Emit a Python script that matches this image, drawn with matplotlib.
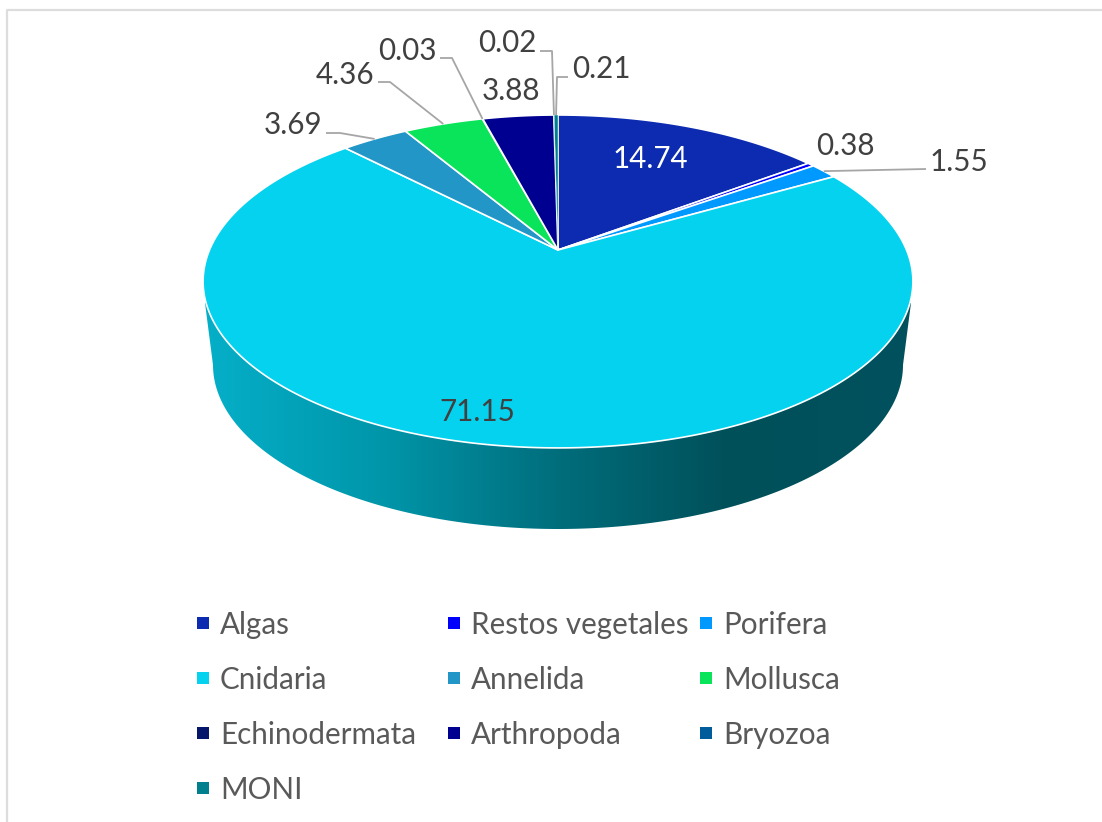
#!/usr/bin/env python3
"""Pie chart in perspective, drawn on a pixel canvas so the layout lines up."""

from __future__ import annotations

import matplotlib

matplotlib.use("Agg")
import matplotlib.pyplot as plt
import numpy as np
from matplotlib.colors import LinearSegmentedColormap
from matplotlib.patches import Polygon, Rectangle

WIDTH, HEIGHT = 1102, 822

CATEGORIES = ["Algas", "Restos vegetales", "Porifera", "Cnidaria", "Annelida",
              "Mollusca", "Echinodermata", "Arthropoda", "Bryozoa", "MONI"]
VALUES = [14.74, 0.38, 1.55, 71.15, 3.69, 4.36, 0.03, 3.88, 0.02, 0.21]
COLORS = ["#0C2BB0", "#0000FF", "#0099FF", "#05D2EE", "#2396C8",
          "#0AE45A", "#06176B", "#000090", "#005C9A", "#00808F"]

# Pie projection: apex of the slices, radii and perspective factor
APEX = (558.0, 250.0)
RX, RY, PERSP = 348.5, 160.5, 0.189

# Wall under the pie
WALL_SHADES = [(0.0, "#05AFC8"), (0.25, "#0096AA"), (0.51, "#006C7A"),
               (0.74, "#00505A"), (1.0, "#00525E")]
WALL_LEFT, WALL_RIGHT = 205, 911
WALL_TOP_Y, WALL_MID_Y = 303, 365
WALL_RX, WALL_RY, WALL_CX = 345, 164, 558

# Label centre and optional leader elbow/start for each slice, in pixels
LABEL_POS = [(650, 159), (845, 146), (959, 162), (477, 412), (293, 125),
             (345, 75), (407, 51), (511, 91), (507, 43), (601, 69)]
LEADERS = {
    2: [(926, 169)],
    4: [(326, 133), (340, 133)],
    5: [(378, 82), (390, 82)],
    6: [(440, 58), (452, 58)],
    8: [(540, 51), (552, 51)],
    9: [(568, 77), (557, 77)],
}

LEGEND_X = [197, 448, 700]
LEGEND_Y = [623, 678, 733, 788]
FONT = ["Lato", "DejaVu Sans"]


def project(fraction):
    """Fraction of the circle (clockwise from the top) to canvas pixels."""
    theta = 2 * np.pi * np.asarray(fraction)
    u, v = np.sin(theta), np.cos(theta)
    d = 1 + PERSP * v
    return APEX[0] + RX * u / d, APEX[1] - RY * v / d


def draw_wall(ax):
    t = np.linspace(np.pi, 0, 200)
    xs = WALL_CX + WALL_RX * np.cos(t)
    ys = WALL_MID_Y + WALL_RY * np.sin(t)
    outline = np.column_stack([
        np.r_[WALL_LEFT, xs, WALL_RIGHT],
        np.r_[WALL_TOP_Y, ys, WALL_TOP_Y],
    ])
    clip = Polygon(outline, closed=True, fc="none", ec="none")
    ax.add_patch(clip)
    cmap = LinearSegmentedColormap.from_list("wall", WALL_SHADES)
    im = ax.imshow(np.linspace(0, 1, 512)[None, :], cmap=cmap, aspect="auto",
                   extent=(WALL_LEFT, WALL_RIGHT, 540, 290), zorder=1)
    im.set_clip_path(clip)


def main() -> None:
    plt.rcParams["font.family"] = FONT
    fig = plt.figure(figsize=(WIDTH / 100, HEIGHT / 100), dpi=100)
    ax = fig.add_axes([0, 0, 1, 1])

    draw_wall(ax)

    bounds = np.cumsum([0] + VALUES) / sum(VALUES)
    for i, color in enumerate(COLORS):
        n = max(3, int((bounds[i + 1] - bounds[i]) * 720))
        xs, ys = project(np.linspace(bounds[i], bounds[i + 1], n))
        pts = np.column_stack([np.r_[APEX[0], xs], np.r_[APEX[1], ys]])
        lw = 1.2 if VALUES[i] >= 0.3 else 0.3
        ax.add_patch(Polygon(pts, closed=True, fc=color, ec="white", lw=lw,
                             joinstyle="round", zorder=2))

    for i, pts in LEADERS.items():
        end = project((bounds[i] + bounds[i + 1]) / 2)
        xs = [p[0] for p in pts] + [float(end[0])]
        ys = [p[1] for p in pts] + [float(end[1])]
        ax.plot(xs, ys, color="#A6A6A6", lw=1.3, zorder=3, solid_capstyle="butt")

    for i, (x, y) in enumerate(LABEL_POS):
        color = "white" if i == 0 else "#404040"
        ax.text(x, y, f"{VALUES[i]:.2f}", color=color, fontsize=21.3,
                ha="center", va="center", zorder=4)

    for i, name in enumerate(CATEGORIES):
        x = LEGEND_X[i % 3]
        y = LEGEND_Y[i // 3]
        ax.add_patch(Rectangle((x, y - 6), 12, 12, fc=COLORS[i], ec="none", zorder=4))
        ax.text(x + 23, y + 2, name, color="#595959", fontsize=21.3, ha="left",
                va="center", zorder=4)

    # Frame of the chart area, only left and top survive the crop
    ax.plot([6.5, 6.5, WIDTH], [HEIGHT, 10, 10], color="#DDDDDD", lw=1.6, zorder=0)

    ax.set_xlim(0, WIDTH)
    ax.set_ylim(HEIGHT, 0)
    ax.axis("off")
    fig.savefig("out.png", dpi=100)
    plt.close(fig)


if __name__ == "__main__":
    main()
